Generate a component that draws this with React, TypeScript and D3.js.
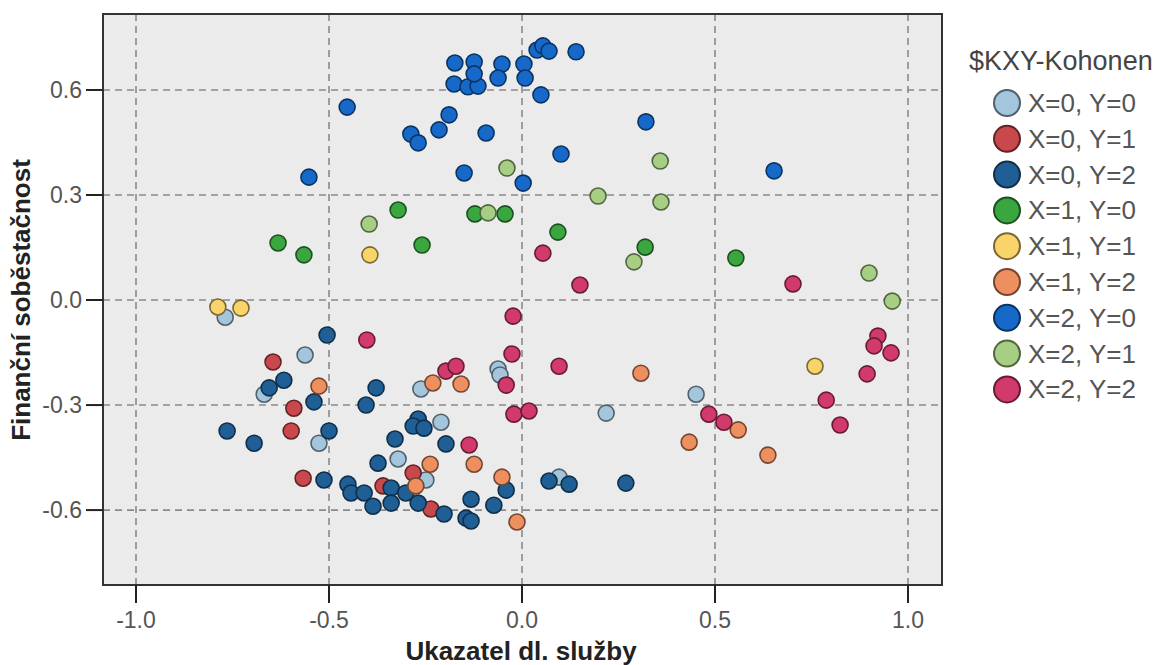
import * as d3 from "d3";

// Kohonen clusters (legend order)
const clusters = ["X=0, Y=0", "X=0, Y=1", "X=0, Y=2", "X=1, Y=0", "X=1, Y=1", "X=1, Y=2", "X=2, Y=0", "X=2, Y=1", "X=2, Y=2"];
const clusterColors = ["#a3c6dc", "#c9484c", "#1f5f96", "#3aa640", "#f9d46b", "#ee8f5f", "#1769c9", "#a6cf84", "#d23a6c"];

const xTicks = [-1.0, -0.5, 0.0, 0.5, 1.0];
const yTicks = [-0.6, -0.3, 0.0, 0.3, 0.6];

// [Ukazatel dl. služby, Finanční soběstačnost]
const x0y0: [number, number][] = [
  [-0.769, -0.049], [-0.562, -0.157], [-0.526, -0.409], [-0.668, -0.269], [-0.262, -0.254],
  [-0.062, -0.197], [-0.057, -0.214], [-0.21, -0.349], [-0.321, -0.454], [-0.249, -0.514],
  [0.218, -0.323], [0.451, -0.269], [0.096, -0.506],
];
const x0y1: [number, number][] = [
  [-0.645, -0.177], [-0.591, -0.309], [-0.598, -0.374], [-0.567, -0.509], [-0.282, -0.494],
  [-0.236, -0.597], [-0.36, -0.531],
];
const x0y2: [number, number][] = [
  [-0.505, -0.1], [-0.617, -0.229], [-0.655, -0.251], [-0.539, -0.291], [-0.378, -0.251],
  [-0.404, -0.3], [-0.5, -0.374], [-0.764, -0.374], [-0.694, -0.409], [-0.513, -0.514],
  [-0.451, -0.526], [-0.443, -0.551], [-0.409, -0.551], [-0.386, -0.589], [-0.373, -0.466],
  [-0.329, -0.397], [-0.339, -0.537], [-0.339, -0.58], [-0.269, -0.34], [-0.282, -0.36],
  [-0.254, -0.366], [-0.197, -0.411], [-0.301, -0.551], [-0.269, -0.58], [-0.202, -0.611],
  [-0.132, -0.569], [-0.145, -0.623], [-0.132, -0.631], [-0.073, -0.586], [-0.041, -0.543],
  [0.07, -0.517], [0.122, -0.526], [0.269, -0.523],
];
const x1y0: [number, number][] = [
  [-0.321, 0.257], [-0.259, 0.157], [-0.122, 0.246], [-0.044, 0.246], [0.093, 0.194],
  [0.319, 0.151], [0.554, 0.12], [-0.632, 0.163], [-0.565, 0.129],
];
const x1y1: [number, number][] = [
  [-0.394, 0.129], [-0.788, -0.02], [-0.728, -0.023], [0.759, -0.189],
];
const x1y2: [number, number][] = [
  [-0.526, -0.246], [-0.231, -0.237], [-0.158, -0.24], [0.308, -0.209], [0.433, -0.406],
  [0.56, -0.371], [0.637, -0.443], [-0.238, -0.469], [-0.124, -0.469], [-0.275, -0.531],
  [-0.052, -0.506], [-0.013, -0.634],
];
const x2y0: [number, number][] = [
  [-0.453, 0.551], [-0.552, 0.351], [-0.174, 0.677], [-0.124, 0.68], [-0.052, 0.674],
  [0.005, 0.674], [-0.176, 0.617], [-0.14, 0.609], [-0.114, 0.611], [-0.124, 0.646],
  [-0.062, 0.634], [0.008, 0.634], [0.049, 0.586], [0.039, 0.714], [0.054, 0.726],
  [0.07, 0.711], [0.14, 0.709], [-0.189, 0.529], [-0.215, 0.486], [-0.288, 0.474],
  [-0.269, 0.449], [-0.093, 0.477], [0.101, 0.417], [-0.15, 0.363], [0.003, 0.334],
  [0.321, 0.509], [0.653, 0.369],
];
const x2y1: [number, number][] = [
  [-0.039, 0.377], [-0.088, 0.249], [0.197, 0.297], [0.358, 0.397], [0.36, 0.28],
  [0.29, 0.109], [-0.396, 0.217], [0.899, 0.077], [0.959, -0.003],
];
const x2y2: [number, number][] = [
  [0.054, 0.134], [0.15, 0.043], [0.702, 0.046], [0.922, -0.103], [0.912, -0.131],
  [0.956, -0.151], [0.894, -0.211], [0.788, -0.286], [0.824, -0.357], [0.484, -0.326],
  [0.523, -0.349], [-0.402, -0.114], [-0.023, -0.046], [-0.026, -0.154], [0.096, -0.189],
  [-0.041, -0.243], [-0.021, -0.326], [0.018, -0.317], [-0.197, -0.203], [-0.171, -0.189],
  [-0.137, -0.414],
];

const seriesData = [x0y0, x0y1, x0y2, x1y0, x1y1, x1y2, x2y0, x2y1, x2y2];

const W = 1168;
const H = 665;
const plot = { left: 103, right: 942, top: 14, bottom: 585 };
const font = "'Liberation Sans', Arial, sans-serif";
const fmt = (t: number) => t.toFixed(1);

export default function App() {
  const x = d3.scaleLinear().domain([-1.0855, 1.088]).range([plot.left, plot.right]);
  const y = d3.scaleLinear().domain([-0.814, 0.817]).range([plot.bottom, plot.top]);
  const color = d3.scaleOrdinal<string, string>().domain(clusters).range(clusterColors);
  const edge = (c: string) => d3.color(color(c))!.darker(2).formatHex();

  return (
    <svg width={W} height={H} style={{ position: "absolute", left: 0, top: 0, background: "#fff" }} fontFamily={font}>
      <rect x={plot.left} y={plot.top} width={plot.right - plot.left} height={plot.bottom - plot.top} fill="#ebebeb" />

      {/* grid */}
      <g stroke="#8a8a8a" strokeWidth={1.6} strokeDasharray="7,5">
        {xTicks.map((t) => (
          <line key={"gx" + t} x1={x(t)} x2={x(t)} y1={plot.top} y2={plot.bottom} />
        ))}
        {yTicks.map((t) => (
          <line key={"gy" + t} x1={plot.left} x2={plot.right} y1={y(t)} y2={y(t)} />
        ))}
      </g>

      {/* points */}
      {seriesData.map((pts, i) => (
        <g key={clusters[i]} fill={color(clusters[i])} stroke={edge(clusters[i])} strokeWidth={1.6}>
          {pts.map((d, j) => (
            <circle key={j} cx={x(d[0])} cy={y(d[1])} r={8} />
          ))}
        </g>
      ))}

      <rect x={plot.left} y={plot.top} width={plot.right - plot.left} height={plot.bottom - plot.top} fill="none" stroke="#333" strokeWidth={2} />

      {/* x axis */}
      {xTicks.map((t) => (
        <g key={"tx" + t}>
          <line x1={x(t)} x2={x(t)} y1={plot.bottom} y2={plot.bottom + 18} stroke="#222" strokeWidth={2} />
          <text x={x(t)} y={628} textAnchor="middle" fontSize={23} fill="#555">
            {fmt(t)}
          </text>
        </g>
      ))}
      {/* y axis */}
      {yTicks.map((t) => (
        <g key={"ty" + t}>
          <line x1={plot.left - 17} x2={plot.left} y1={y(t)} y2={y(t)} stroke="#222" strokeWidth={2} />
          <text x={82} y={y(t) + 8} textAnchor="end" fontSize={23} fill="#555">
            {fmt(t)}
          </text>
        </g>
      ))}

      <text x={521} y={660} textAnchor="middle" fontSize={26} fontWeight="bold" fill="#222">
        Ukazatel dl. služby
      </text>
      <text transform="translate(30,300) rotate(-90)" textAnchor="middle" fontSize={26} fontWeight="bold" fill="#222">
        Finanční soběstačnost
      </text>

      {/* legend */}
      <text x={969} y={70} fontSize={27} fill="#444">
        $KXY-Kohonen
      </text>
      {clusters.map((c, i) => (
        <g key={"lg" + c} transform={`translate(0,${103 + i * 35.8})`}>
          <circle cx={1007} cy={0} r={13} fill={color(c)} stroke={edge(c)} strokeWidth={2} />
          <text x={1028} y={9} fontSize={26} fill="#555">
            {c}
          </text>
        </g>
      ))}
    </svg>
  );
}
